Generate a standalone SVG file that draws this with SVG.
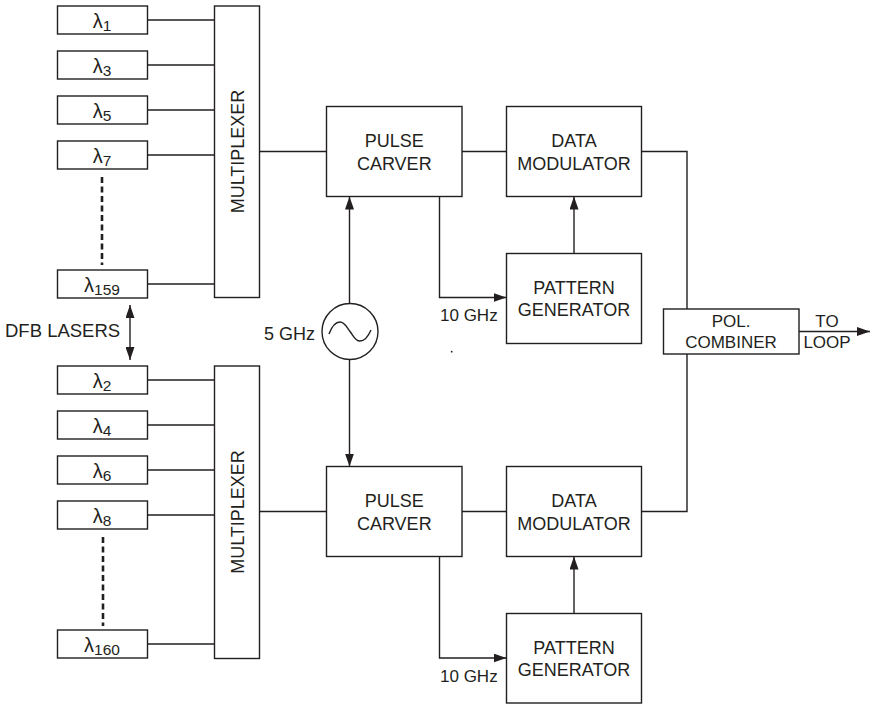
<svg xmlns="http://www.w3.org/2000/svg" width="872" height="704" viewBox="0 0 872 704">
<defs>
<marker id="ah" markerUnits="userSpaceOnUse" viewBox="0 0 13 9" refX="13" refY="4.5" markerWidth="13" markerHeight="9" orient="auto-start-reverse">
<path d="M0,0 L13,4.5 L0,9 Z" fill="#231f20"/>
</marker>
<style>
rect.b{fill:#fff;stroke:#231f20;stroke-width:1.4}
.ln{fill:none;stroke:#231f20;stroke-width:1.4}
.dash{fill:none;stroke:#231f20;stroke-width:2.6;stroke-dasharray:6 3.5}
text{font-family:"Liberation Sans",Arial,sans-serif;fill:#231f20}
.t{font-size:18px;text-anchor:middle}
.s{font-size:17px}
.lam{font-size:20px;text-anchor:middle}
.sub{font-size:15.5px}
</style>
</defs>
<rect width="872" height="704" fill="#fff"/>

<g id="connectors">
<path class="ln" d="M147.5,20H214.5M147.5,65H214.5M147.5,110H214.5M147.5,155H214.5M147.5,284H214.5"/>
<path class="ln" d="M147.5,380H214.5M147.5,425H214.5M147.5,470H214.5M147.5,515H214.5M147.5,644H214.5"/>
<path class="dash" d="M102,177V265"/>
<path class="dash" d="M103,537V626"/>
<path class="ln" d="M259.5,151.5H326.5"/>
<path class="ln" d="M259.5,511.5H326.5"/>
<path class="ln" d="M462,151.5H506.5"/>
<path class="ln" d="M462,511.5H506.5"/>
<path class="ln" d="M439.5,196.5V297.5H506.5" marker-end="url(#ah)"/>
<path class="ln" d="M439.5,556.5V658H506.5" marker-end="url(#ah)"/>
<path class="ln" d="M574,253.5V196.5" marker-end="url(#ah)"/>
<path class="ln" d="M574,613.5V556.5" marker-end="url(#ah)"/>
<path class="ln" d="M349.5,303.5V196.5" marker-end="url(#ah)"/>
<path class="ln" d="M349.5,359.5V466.5" marker-end="url(#ah)"/>
<path class="ln" d="M641.5,151.5H687V309"/>
<path class="ln" d="M641.5,511.5H687V354"/>
<path class="ln" d="M799,331.5H870" marker-end="url(#ah)"/>
<path class="ln" d="M130,305V360" marker-start="url(#ah)" marker-end="url(#ah)"/>
</g>

<g id="laser1"><rect class="b" x="57.5" y="6" width="90" height="28"/><text class="lam" x="102" y="27.5">λ<tspan class="sub" dy="3.4">1</tspan></text></g>
<g id="laser3"><rect class="b" x="57.5" y="51" width="90" height="28"/><text class="lam" x="102" y="72.5">λ<tspan class="sub" dy="3.4">3</tspan></text></g>
<g id="laser5"><rect class="b" x="57.5" y="96" width="90" height="28"/><text class="lam" x="102" y="117.5">λ<tspan class="sub" dy="3.4">5</tspan></text></g>
<g id="laser7"><rect class="b" x="57.5" y="141" width="90" height="28"/><text class="lam" x="102" y="162.5">λ<tspan class="sub" dy="3.4">7</tspan></text></g>
<g id="laser159"><rect class="b" x="57.5" y="270" width="90" height="28"/><text class="lam" x="102" y="291.5">λ<tspan class="sub" dy="3.4">159</tspan></text></g>

<g id="laser2"><rect class="b" x="57.5" y="366" width="90" height="28"/><text class="lam" x="102" y="387.5">λ<tspan class="sub" dy="3.4">2</tspan></text></g>
<g id="laser4"><rect class="b" x="57.5" y="411" width="90" height="28"/><text class="lam" x="102" y="432.5">λ<tspan class="sub" dy="3.4">4</tspan></text></g>
<g id="laser6"><rect class="b" x="57.5" y="456" width="90" height="28"/><text class="lam" x="102" y="477.5">λ<tspan class="sub" dy="3.4">6</tspan></text></g>
<g id="laser8"><rect class="b" x="57.5" y="501" width="90" height="28"/><text class="lam" x="102" y="522.5">λ<tspan class="sub" dy="3.4">8</tspan></text></g>
<g id="laser160"><rect class="b" x="57.5" y="630" width="90" height="28"/><text class="lam" x="102" y="651.5">λ<tspan class="sub" dy="3.4">160</tspan></text></g>

<g id="dfb-label"><text class="t" x="5" y="336.5" style="text-anchor:start;font-size:18.5px">DFB LASERS</text></g>

<g id="mux1"><rect class="b" x="214.5" y="6" width="45" height="291.5"/><text class="t" x="243.5" y="151.5" transform="rotate(-90 243.5 151.5)">MULTIPLEXER</text></g>
<g id="mux2"><rect class="b" x="214.5" y="366" width="45" height="292.5"/><text class="t" x="243.5" y="512" transform="rotate(-90 243.5 512)">MULTIPLEXER</text></g>

<g id="oscillator">
<circle cx="350" cy="331.5" r="28" fill="#fff" stroke="#231f20" stroke-width="1.4"/>
<path class="ln" d="M329,334 C332,326 336,322 340,322 C345,322 347,328 350,331.5 C353,335 355,341 360,341 C364,341 368,337 371,330"/>
<text class="t" x="315" y="340" style="text-anchor:end">5 GHz</text>
</g>

<g id="pulse1"><rect class="b" x="326.5" y="106.5" width="135.5" height="90"/><text class="t" x="394.3" y="147.3">PULSE</text><text class="t" x="394.3" y="170">CARVER</text></g>
<g id="pulse2"><rect class="b" x="326.5" y="466.5" width="135.5" height="90"/><text class="t" x="394.3" y="507.3">PULSE</text><text class="t" x="394.3" y="530">CARVER</text></g>

<g id="datamod1"><rect class="b" x="506.5" y="106.5" width="135" height="90"/><text class="t" x="574" y="147.3">DATA</text><text class="t" x="574" y="170">MODULATOR</text></g>
<g id="datamod2"><rect class="b" x="506.5" y="466.5" width="135" height="90"/><text class="t" x="574" y="507.3">DATA</text><text class="t" x="574" y="530">MODULATOR</text></g>

<g id="patgen1"><rect class="b" x="506.5" y="253.5" width="135" height="90"/><text class="t" x="574" y="293.5">PATTERN</text><text class="t" x="574" y="316">GENERATOR</text></g>
<g id="patgen2"><rect class="b" x="506.5" y="613.5" width="135" height="89.5"/><text class="t" x="574" y="653.5">PATTERN</text><text class="t" x="574" y="676">GENERATOR</text></g>

<g id="clk1"><text class="s" x="440" y="320.7">10 GHz</text></g>
<g id="clk2"><text class="s" x="440" y="681.7">10 GHz</text></g>

<g id="polcomb"><rect class="b" x="663.5" y="309" width="135.5" height="45"/><text class="s" x="731" y="326.7" text-anchor="middle">POL.</text><text class="s" x="731" y="348.3" text-anchor="middle">COMBINER</text></g>

<g id="out-label"><text class="s" x="827" y="327.3" text-anchor="middle">TO</text><text class="s" x="827" y="348.3" text-anchor="middle">LOOP</text></g>

<circle cx="451.7" cy="351.7" r="0.9" fill="#231f20"/>
</svg>
